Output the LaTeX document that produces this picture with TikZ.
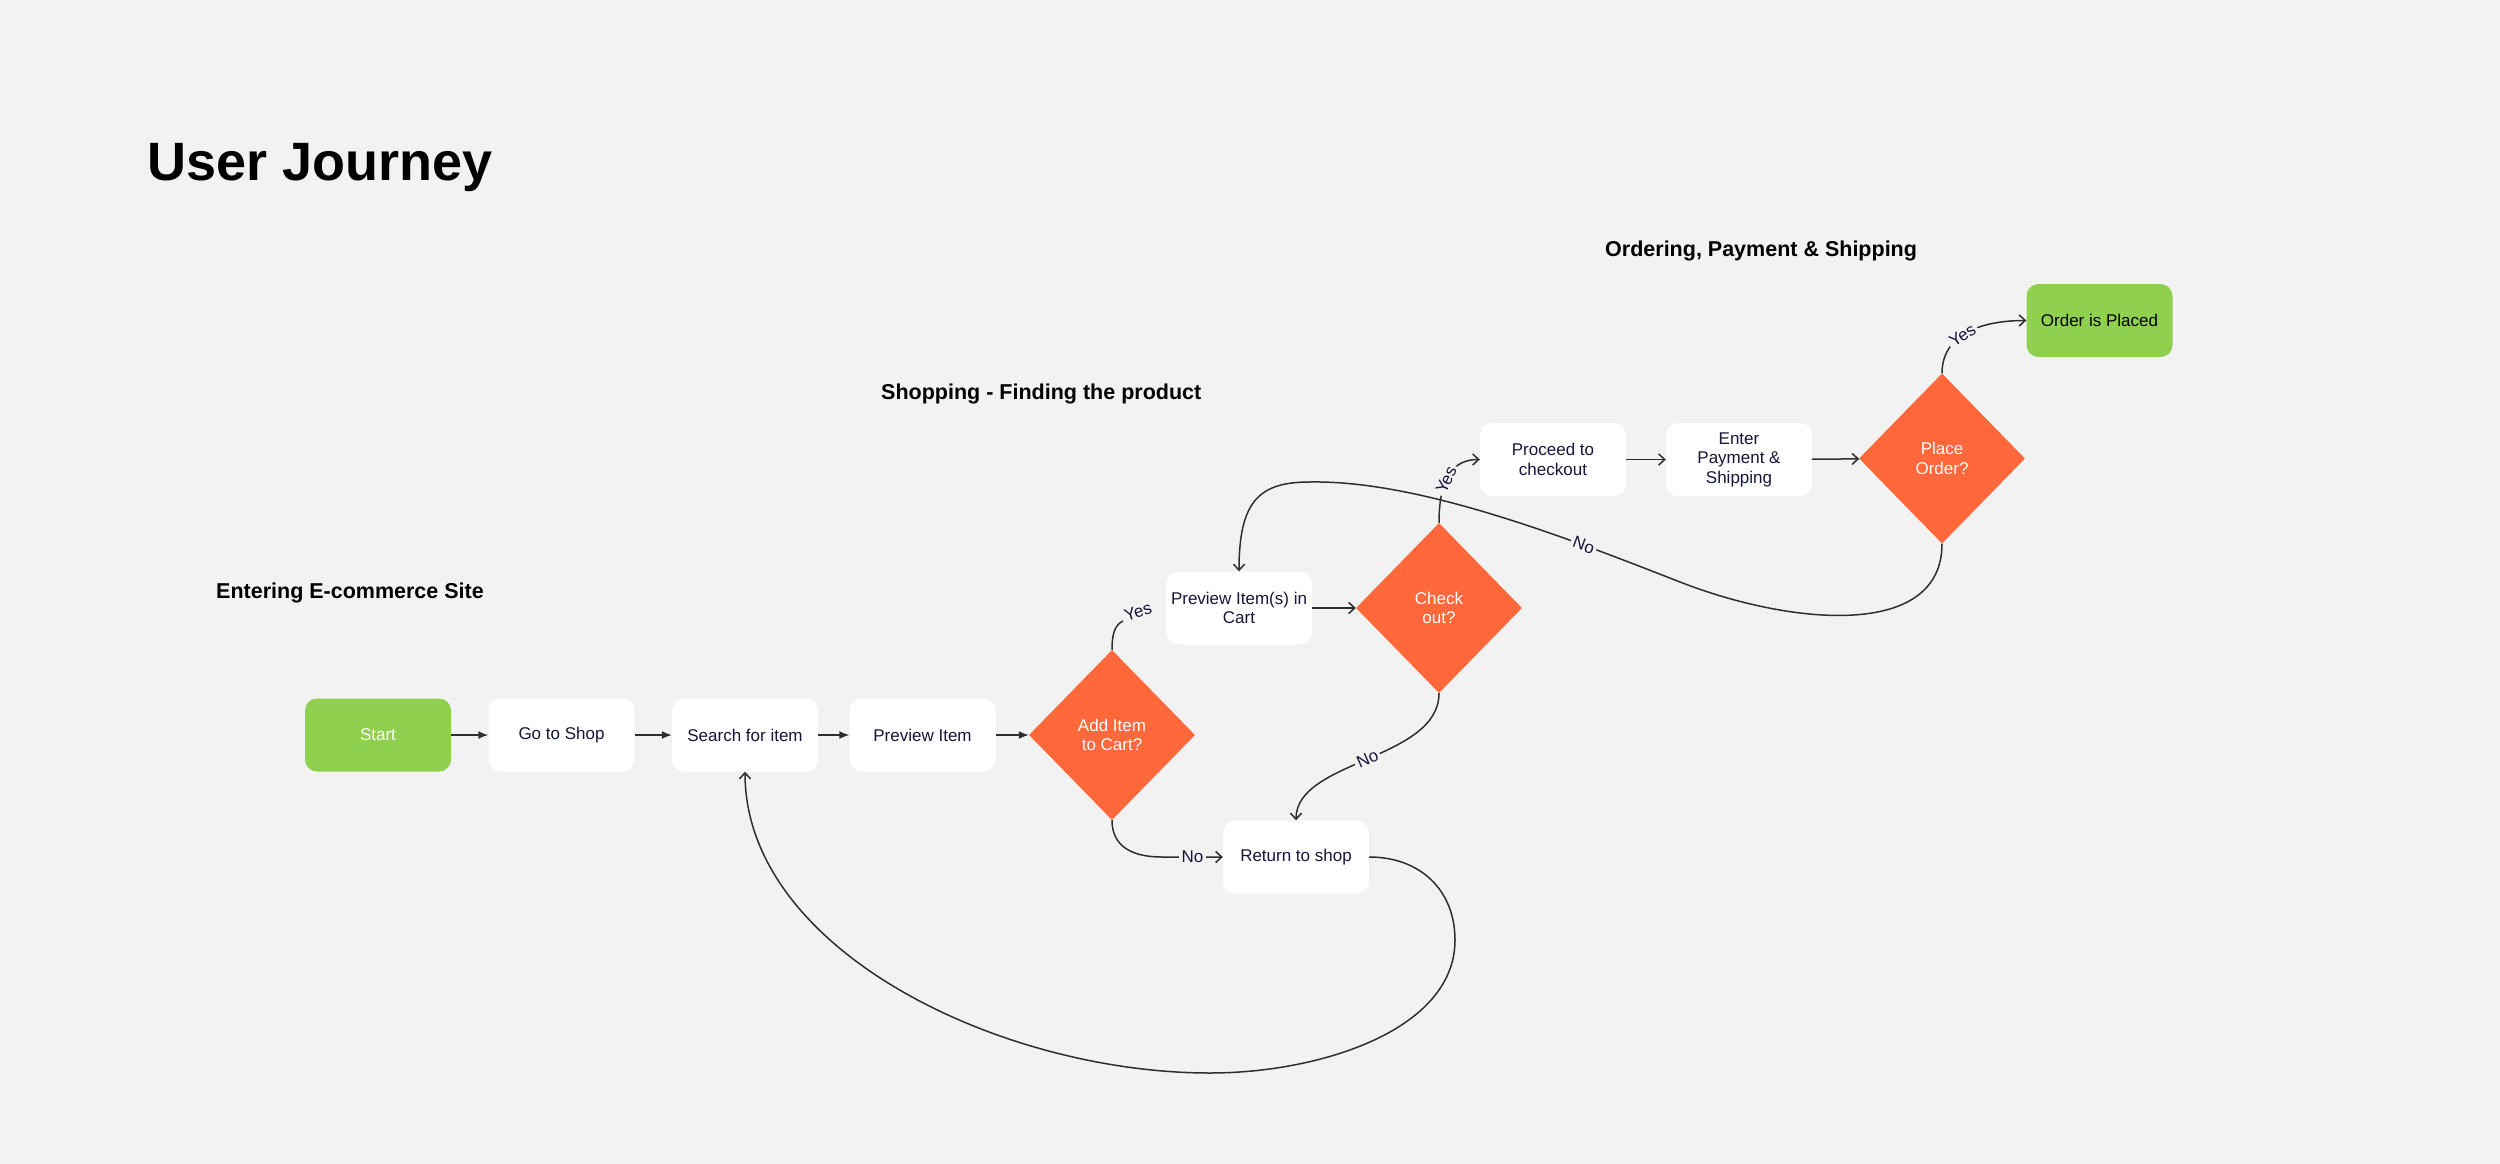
\documentclass[tikz,border=0pt]{standalone}
\usepackage{fontspec}
\setmainfont{Liberation Sans}
\usetikzlibrary{arrows.meta,shapes.geometric}
\definecolor{bg}{HTML}{F2F2F2}
\definecolor{ujgreen}{HTML}{8FD04F}
\definecolor{ujorange}{HTML}{FF683B}
\definecolor{ujnavy}{HTML}{16163A}
\definecolor{ujline}{HTML}{2E2E2E}
\newcommand\ujnodefont{\fontsize{17}{19.5}\selectfont}
\newcommand\ujlblfont{\fontsize{17}{19}\selectfont}
\newcommand\ujheadfont{\fontsize{21.5}{24}\selectfont\bfseries}
\newcommand\ujtitlefont{\fontsize{54}{60}\selectfont\bfseries}
\begin{document}
\begin{tikzpicture}[x=1pt,y=-1pt,
  box/.style={fill=white, rounded corners=12pt, minimum width=146pt, minimum height=73pt,
    align=center, text=ujnavy, font=\ujnodefont, inner sep=0pt},
  gbox/.style={box, fill=ujgreen},
  dia/.style={shape=diamond, fill=ujorange, minimum width=166pt, minimum height=170pt,
    inner sep=0pt, align=center, text=white, font=\ujnodefont},
  head/.style={anchor=base west, font=\ujheadfont, text=black, inner sep=0pt},
  conn/.style={draw=ujline, line width=1.5pt},
  mainarr/.style={conn, -{Latex[length=10pt,width=8pt]}},
  arr/.style={conn, -{Straight Barb[length=6pt,width=11pt,line width=1.5pt]}},
  lbl/.style={fill=bg, inner sep=2.5pt, text=ujnavy, font=\ujlblfont},
]
\useasboundingbox (0,0) rectangle (2500,1164);
\fill[bg] (0,0) rectangle (2500,1164);

% titles
\node[anchor=base west, font=\ujtitlefont, inner sep=0pt] (title) at (147,180) {User Journey};
\node[head] (h1) at (216,598) {Entering E-commerce Site};
\node[head] (h2) at (881,399) {Shopping - Finding the product};
\node[head] (h3) at (1605,256) {Ordering, Payment \& Shipping};

% nodes
\node[gbox, text=white] (start) at (378,735) {Start};
\node[box] (shop) at (561.5,735) {Go to Shop};
\node[box] (search) at (745,735) {Search for item};
\node[box] (prev) at (922.5,735) {Preview Item};
\node[dia] (add) at (1112,735) {Add Item\\to Cart?};
\node[box] (cart) at (1239,608) {Preview Item(s) in\\Cart};
\node[dia] (check) at (1439,608) {Check\\out?};
\node[box] (proceed) at (1553,459.5) {Proceed to\\checkout};
\node[box] (pay) at (1739,459.5) {Enter\\Payment \&\\Shipping};
\node[dia] (place) at (1942,458.5) {Place\\Order?};
\node[gbox, text=black] (placed) at (2099.5,320.5) {Order is Placed};
\node[box] (ret) at (1296,857) {Return to shop};

% via points
\coordinate (y1) at (1123,621);
\coordinate (n1) at (1162,857);
\coordinate (v1) at (1680,582);
\coordinate (v2) at (1310,482);
\coordinate (w1) at (1455,940);
\coordinate (w2) at (1210,1073);

% main row
\draw[mainarr] (start) -- (shop);
\draw[mainarr] (shop) -- (search);
\draw[mainarr] (search) -- (prev);
\draw[mainarr] (prev) -- (add);

% add item decisions
\draw[conn] (add.north) .. controls (1112,633) and (1115,625) .. (y1);
\node[text=ujnavy, font=\ujlblfont, rotate=18, inner sep=0pt] (yes1) at (1138,612) {Yes};
\draw[arr] (add.south) .. controls (1112,845) and (1130,857) .. (n1) -- node[lbl]{No} (ret.west);

% cart / checkout
\draw[arr] (cart) -- (check);
\draw[arr] (check.south) .. controls (1439,760) and (1296,760) .. node[lbl,sloped]{No} (ret.north);
\draw[arr] (check.north) .. controls (1439,475) and (1455,459.5) .. node[lbl,sloped,pos=0.4]{Yes} (proceed.west);

% ordering row
\draw[arr] (proceed) -- (pay);
\draw[arr] (pay) -- (place);
\draw[arr] (place.north) .. controls (1942,335) and (1980,320.5) .. node[lbl,sloped,pos=0.45]{Yes} (placed.west);
\draw[arr] (place.south) .. controls (1942,640) and (1790,625) .. (v1)
  .. controls (1570,539) and (1420,480) .. node[lbl,sloped,pos=0.27]{No} (v2)
  .. controls (1260,482) and (1239,500) .. (cart.north);

% return loop
\draw[arr] (ret.east) .. controls (1420,857) and (1455,890) .. (w1)
  .. controls (1455,1030) and (1320,1073) .. (w2)
  .. controls (1000,1073) and (745,950) .. (search.south);
\end{tikzpicture}
\end{document}
